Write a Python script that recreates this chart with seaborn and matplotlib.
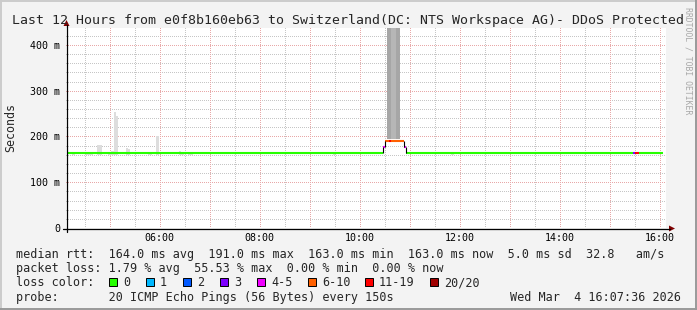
import matplotlib
matplotlib.use("Agg")
import matplotlib.pyplot as plt
import numpy as np
import pandas as pd
import seaborn as sns
from matplotlib.ticker import MultipleLocator, FixedLocator, FuncFormatter
from matplotlib.patches import Rectangle, Polygon
from matplotlib.lines import Line2D

# ------------------------------------------------------------------ data
title = "Last 12 Hours from e0f8b160eb63 to Switzerland(DC: NTS Workspace AG)- DDoS Protected"
watermark = "RRDTOOL / TOBI OETIKER"
y_label = "Seconds"

x_start = 4 + 7.6 / 60          # 04:07:36
x_end = 16 + 7.6 / 60           # 16:07:36
x_tick_hours = [6, 8, 10, 12, 14, 16]
x_tick_labels = ["06:00", "08:00", "10:00", "12:00", "14:00", "16:00"]
y_tick_values = [0, 100, 200, 300, 400]
y_tick_labels = ["0", "100 m", "200 m", "300 m", "400 m"]
y_max = 437

# median rtt (ms) as steps, coloured by loss class
seg_start = [4.14, 10.46, 10.50, 10.58, 10.62, 10.88, 10.92, 15.466, 15.506, 15.59]
seg_end = [10.46, 10.50, 10.58, 10.62, 10.88, 10.92, 15.466, 15.506, 15.59, 16.06]
seg_value = [163, 178, 191, 191, 191, 178, 163, 163, 163, 163]
seg_loss = ["0", "4-5", "6-10", "11-19", "6-10", "4-5", "0", "3", "11-19", "0"]

# smoke (spread of pings, ms)
smoke_start = [4.246, 4.534, 4.754, 4.966, 5.034, 5.08, 5.12, 5.334, 5.374, 5.766,
               5.92, 6.38, 6.42, 6.56, 9.46, 11.834, 10.54, 10.62, 10.72]
smoke_end = [4.30, 4.66, 4.84, 5.034, 5.08, 5.12, 5.16, 5.374, 5.414, 5.84,
             5.98, 6.42, 6.48, 6.66, 9.50, 11.88, 10.62, 10.72, 10.80]
smoke_low = [160, 160, 160, 160, 160, 160, 160, 160, 160, 160,
             160, 160, 160, 160, 160, 160, 194, 194, 194]
smoke_high = [167, 167, 181, 167, 169, 254, 245, 175, 173, 167,
              201, 169, 167, 166, 166, 166, 460, 460, 460]
smoke_gray = ["#dddddd"] * 16 + ["#a6a6a6", "#b6b6b6", "#a6a6a6"]

loss_labels = ["0", "1", "2", "3", "4-5", "6-10", "11-19", "20/20"]
loss_colors = ["#26ff00", "#00b8ff", "#0059ff", "#7e00ff", "#f000ff", "#ff6000", "#ff0000", "#a00000"]

legend_rtt = "median rtt:  164.0 ms avg  191.0 ms max  163.0 ms min  163.0 ms now  5.0 ms sd  32.8   am/s"
legend_loss = "packet loss: 1.79 % avg  55.53 % max  0.00 % min  0.00 % now"
legend_loss_color = "loss color:"
legend_probe = "probe:       20 ICMP Echo Pings (56 Bytes) every 150s"
date_text = "Wed Mar  4 16:07:36 2026"

# ------------------------------------------------------------------ layout
W, H = 697, 310
BG = "#f3f3f3"
MONO = "DejaVu Sans Mono"

sns.set_theme(style="white")
plt.rcParams["font.family"] = [MONO, "DejaVu Sans"]

fig = plt.figure(figsize=(W / 100, H / 100), dpi=100, facecolor=BG)


def fx(x):
    return x / W


def fy(y):
    return 1 - y / H


ax_l, ax_r, ax_t, ax_b = 66, 666, 28, 228
PW, PH = ax_r - ax_l, ax_b - ax_t
ax = fig.add_axes([fx(ax_l), fy(ax_b), PW / W, PH / H])
ax.set_facecolor("white")
for s in ax.spines.values():
    s.set_visible(False)

# dotted grid rendered pixel-exact (rrdtool style)
grid = np.zeros((PH, PW, 4))
minor_rgba = (0.78, 0.78, 0.78, 1.0)
major_rgba = (0.91, 0.66, 0.66, 1.0)


def hline(v, rgba):
    r = int(round(PH - v / y_max * PH))
    if 0 <= r < PH:
        grid[r, 0::2] = rgba


def vline(h, rgba):
    c = int(round((h - x_start) / (x_end - x_start) * PW))
    if 0 <= c < PW:
        grid[0::2, c] = rgba


for v in np.arange(20, y_max, 20):
    hline(v, minor_rgba)
for h in np.arange(4.5, x_end, 0.5):
    vline(h, minor_rgba)
for v in np.arange(100, y_max, 100):
    hline(v, major_rgba)
for h in np.arange(5, x_end, 1.0):
    vline(h, major_rgba)
ax.imshow(grid, extent=(x_start, x_end, 0, y_max), aspect="auto",
          interpolation="nearest", zorder=0)
ax.set_xlim(x_start, x_end)
ax.set_ylim(0, y_max)

# ticks
ax.xaxis.set_major_locator(FixedLocator(list(range(5, 17))))
ax.xaxis.set_minor_locator(MultipleLocator(0.5))
lab_map = dict(zip(x_tick_hours, x_tick_labels))
ax.xaxis.set_major_formatter(FuncFormatter(lambda v, p: lab_map.get(int(round(v)), "")))
ax.yaxis.set_major_locator(FixedLocator(y_tick_values))
ax.yaxis.set_minor_locator(MultipleLocator(20))
ymap = dict(zip(y_tick_values, y_tick_labels))
ax.yaxis.set_major_formatter(FuncFormatter(lambda v, p: ymap.get(int(round(v)), "")))
ax.grid(False)
ax.tick_params(which="major", length=2.2, width=0.72, color="#606060",
               labelsize=7.2, pad=2.2, labelcolor="black")
ax.tick_params(which="minor", length=1.5, width=0.72, color="#909090")
ax.tick_params(axis="x", which="major", pad=1.6)
for lab in ax.get_xticklabels() + ax.get_yticklabels():
    lab.set_fontfamily(MONO)

# smoke
ax.bar(smoke_start, np.array(smoke_high) - np.array(smoke_low), bottom=smoke_low,
       width=np.array(smoke_end) - np.array(smoke_start), align="edge",
       color=smoke_gray, linewidth=0, zorder=2)

# median line coloured by loss
rows = []
for i, (s, e, v, l) in enumerate(zip(seg_start, seg_end, seg_value, seg_loss)):
    rows.append(dict(t=s, v=v, seg=i, loss=l))
    rows.append(dict(t=e, v=v, seg=i, loss=l))
df = pd.DataFrame(rows)
palette = dict(zip(loss_labels, loss_colors))
sns.lineplot(data=df, x="t", y="v", hue="loss", units="seg", estimator=None,
             palette=palette, legend=False, linewidth=1.5, ax=ax, zorder=4,
             solid_capstyle="butt")
for i in range(len(seg_value) - 1):
    if seg_value[i] != seg_value[i + 1]:
        ax.plot([seg_end[i], seg_end[i]], [seg_value[i], seg_value[i + 1]],
                color="black", lw=0.8, zorder=5, solid_capstyle="butt")
ax.set_xlabel("")
ax.set_ylabel("")
ax.set_xlim(x_start, x_end)
ax.set_ylim(0, y_max)

# axis lines with arrows (figure pixel space)
AXY = ax_b + 0.5
AXX = ax_l + 0.5
fig.add_artist(Line2D([fx(63), fx(670)], [fy(AXY), fy(AXY)], color="black", lw=0.9))
fig.add_artist(Line2D([fx(AXX), fx(AXX)], [fy(232), fy(25)], color="black", lw=0.9))
fig.add_artist(Polygon([[fx(669), fy(AXY - 3)], [fx(675), fy(AXY)], [fx(669), fy(AXY + 3)]],
                       closed=True, color="#7f0000", lw=0))
fig.add_artist(Polygon([[fx(AXX - 3), fy(26)], [fx(AXX), fy(20)], [fx(AXX + 3), fy(26)]],
                       closed=True, color="#7f0000", lw=0))

# titles / labels
fig.text(fx(12), fy(24), title, fontsize=9.55, family=MONO, ha="left", va="baseline")
fig.text(fx(11), fy(128), y_label, fontsize=8.4, family=MONO, rotation=90,
         ha="center", va="center")
fig.text(fx(688), fy(7), watermark, fontsize=5.9, family=MONO, rotation=270,
         ha="center", va="top", color="#a8a8a8")

# legend area
LF = 8.5
fig.text(fx(16), fy(258), legend_rtt, fontsize=LF, family=MONO, va="baseline")
fig.text(fx(16), fy(272), legend_loss, fontsize=LF, family=MONO, va="baseline")
fig.text(fx(16), fy(286), legend_loss_color, fontsize=LF, family=MONO, va="baseline")
sq_x = [109, 146, 183, 220, 257, 308, 365, 430]
for x, lab, col in zip(sq_x, loss_labels, loss_colors):
    fig.add_artist(Rectangle((fx(x), fy(286)), 8 / W, 8 / H, facecolor=col,
                             edgecolor="black", lw=0.7))
    fig.text(fx(x + 14), fy(286), lab, fontsize=LF, family=MONO, va="baseline")
fig.text(fx(16), fy(301), legend_probe, fontsize=LF, family=MONO, va="baseline")
fig.text(fx(681), fy(301), date_text, fontsize=LF, family=MONO, va="baseline", ha="right")

# image frame
fig.add_artist(Line2D([0, 1], [fy(0.5), fy(0.5)], color="#cbcbcb", lw=1.4))
fig.add_artist(Line2D([fx(0.5), fx(0.5)], [0, 1], color="#cbcbcb", lw=1.4))
fig.add_artist(Line2D([0, 1], [fy(H - 1), fy(H - 1)], color="#999999", lw=1.4))
fig.add_artist(Line2D([fx(W - 1), fx(W - 1)], [0, 1], color="#999999", lw=1.4))

fig.savefig("out.png", dpi=100, facecolor=BG)
